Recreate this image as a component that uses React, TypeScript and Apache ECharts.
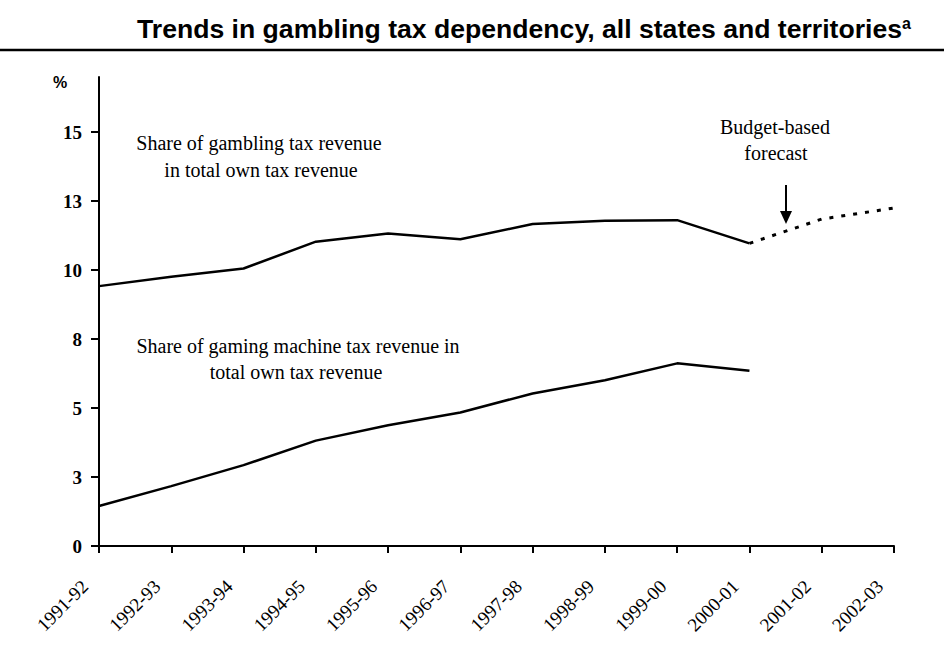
import React, { useEffect, useRef } from "react";
import * as echarts from "echarts";

const categories = [
  "1991-92", "1992-93", "1993-94", "1994-95", "1995-96", "1996-97",
  "1997-98", "1998-99", "1999-00", "2000-01", "2001-02", "2002-03",
];
const gamblingShare = [9.42, 9.76, 10.06, 11.03, 11.33, 11.12, 11.67, 11.79, 11.81, 10.97, null, null];
const gamblingForecast = [null, null, null, null, null, null, null, null, null, 10.97, 11.85, 12.25];
const gamingMachineShare = [1.45, 2.17, 2.93, 3.82, 4.38, 4.84, 5.53, 6.01, 6.62, 6.35, null, null];
const yTicks = [0, 2.5, 5, 7.5, 10, 12.5, 15];

const titleText = "Trends in gambling tax dependency, all states and territories";
const titleSup = "a";
const gamblingLabel = ["Share of gambling tax revenue", "in total own tax revenue"];
const gamingLabel = ["Share of gaming machine tax revenue in", "total own tax revenue"];
const forecastLabel = ["Budget-based", "forecast"];

const SERIF = "'Liberation Serif', 'Times New Roman', serif";
const SANS = "'Liberation Sans', Arial, sans-serif";

export default function App() {
  const ref = useRef<HTMLDivElement>(null);
  useEffect(() => {
    if (!ref.current) return;
    const chart = echarts.init(ref.current, null, { renderer: "svg" });
    const annoStyle = { fill: "#000", font: `20px ${SERIF}`, align: "center", verticalAlign: "middle" };
    chart.setOption({
      animation: false,
      backgroundColor: "#fff",
      grid: { left: 99, right: 50, top: 77, bottom: 104, outerBoundsMode: "none", containLabel: false },
      xAxis: {
        type: "category",
        data: categories,
        boundaryGap: false,
        axisLine: { lineStyle: { color: "#000", width: 2 } },
        axisTick: { show: true, length: 7, lineStyle: { color: "#000", width: 2 } },
        axisLabel: {
          rotate: 45,
          margin: 23,
          padding: [0, 20, 0, 0],
          color: "#000",
          fontFamily: SERIF,
          fontSize: 19,
          interval: 0,
        },
        splitLine: { show: false },
      },
      yAxis: {
        type: "value",
        min: 0,
        max: 17,
        interval: 2.5,
        axisLine: { show: true, lineStyle: { color: "#000", width: 2 } },
        axisTick: { show: true, length: 8, customValues: yTicks, lineStyle: { color: "#000", width: 2 } },
        axisLabel: {
          customValues: yTicks,
          margin: 17,
          color: "#000",
          fontFamily: SERIF,
          fontWeight: "bold",
          fontSize: 19,
          formatter: (v: number) => String(Math.round(v)),
        },
        splitLine: { show: false },
      },
      series: [
        {
          type: "line",
          data: gamblingShare,
          showSymbol: false,
          lineStyle: { color: "#000", width: 2.5 },
        },
        {
          type: "line",
          data: gamblingForecast,
          showSymbol: false,
          lineStyle: { color: "#000", width: 3, type: [4, 8] },
        },
        {
          type: "line",
          data: gamingMachineShare,
          showSymbol: false,
          lineStyle: { color: "#000", width: 2.5 },
        },
      ],
      graphic: [
        {
          type: "text",
          x: 137,
          y: 42,
          style: {
            text: `{t|${titleText}}{s|${titleSup}}`,
            verticalAlign: "bottom",
            rich: {
              t: { font: `bold 26.6px ${SANS}`, fill: "#000" },
              s: { font: `bold 16px ${SANS}`, fill: "#000", verticalAlign: "top" },
            },
          },
        },
        {
          type: "line",
          shape: { x1: 0, y1: 50, x2: 944, y2: 50 },
          style: { stroke: "#000", lineWidth: 2.5 },
        },
        {
          type: "text",
          x: 60,
          y: 82,
          style: { text: "%", fill: "#000", font: `bold 16px ${SANS}`, align: "center", verticalAlign: "middle" },
        },
        { type: "text", x: 259, y: 143, style: { ...annoStyle, text: gamblingLabel[0] } },
        { type: "text", x: 261, y: 170, style: { ...annoStyle, text: gamblingLabel[1] } },
        { type: "text", x: 298, y: 346, style: { ...annoStyle, text: gamingLabel[0] } },
        { type: "text", x: 296, y: 372, style: { ...annoStyle, text: gamingLabel[1] } },
        { type: "text", x: 775, y: 127, style: { ...annoStyle, text: forecastLabel[0] } },
        { type: "text", x: 776, y: 153, style: { ...annoStyle, text: forecastLabel[1] } },
        {
          type: "line",
          shape: { x1: 786, y1: 185, x2: 786, y2: 214 },
          style: { stroke: "#000", lineWidth: 2 },
        },
        {
          type: "polygon",
          shape: { points: [[780, 211], [792, 211], [786, 224]] },
          style: { fill: "#000" },
        },
      ],
    });
    return () => chart.dispose();
  }, []);
  return (
    <div
      ref={ref}
      style={{ position: "fixed", left: 0, top: 0, width: 944, height: 650, background: "#fff" }}
    />
  );
}
